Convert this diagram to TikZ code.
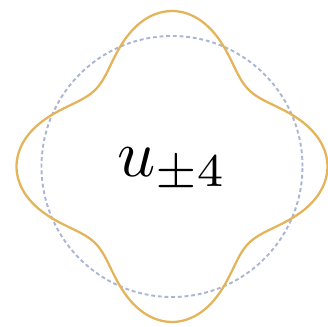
\documentclass[tikz,border=0pt]{standalone}
\usepackage{amsmath, amssymb}
\usepackage{xcolor}
\usepackage{tikz}
\usetikzlibrary{calc}
\definecolor{modeorange}{RGB}{228, 180, 90}
\definecolor{basegray}{RGB}{172, 182, 212}

\begin{document}
\begin{tikzpicture}[x=0.02cm, y=0.02cm,
    basecircle/.style={color=basegray, line width=1.1pt, dash pattern=on 2.2pt off 1.6pt},
    modecurve/.style={color=modeorange, line width=1.3pt}]

  \coordinate (O) at (0, 0);

  % Frame
  \useasboundingbox (-172, -160.5) rectangle (156, 166.5);

  % Unperturbed circle
  \draw[basecircle] (O) circle[radius=130.5];

  % Perturbed shape
  \draw[modecurve] plot[domain=0:360, samples=240, smooth cycle]
    (\x:{132+23.5*cos(4*\x)});

  % Label
  \node[scale=3.8] (lbl) at (0, -3.5) {$u_{\pm 4}$};

\end{tikzpicture}
\end{document}
